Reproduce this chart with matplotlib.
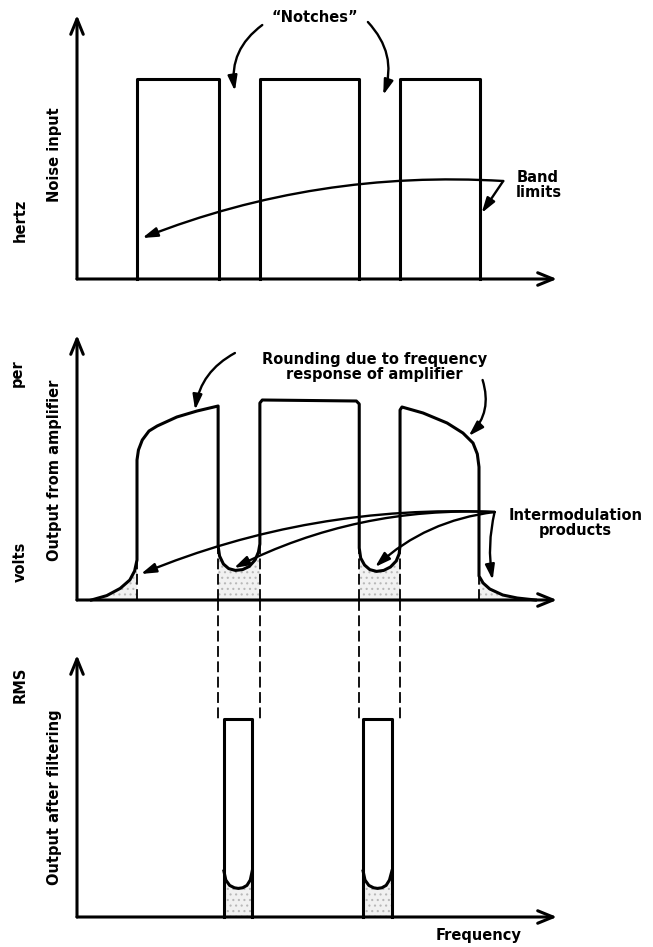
import matplotlib
matplotlib.use("Agg")
import matplotlib.pyplot as plt
import numpy as np

# ---- data (frequency in arbitrary units 0..100, amplitude: 1 = full noise level)
band_edges = [12.5, 29.6, 38.1, 58.8, 67.3, 84.0]   # three bands between the notches
noise_level = 1.0

# output from amplifier: pieces of the curve
tail_left_f = [3.0, 6.2, 9.0, 11.0, 12.0, 12.5]
tail_left_v = [0.0, 0.022, 0.058, 0.10, 0.145, 0.20]
band1_f = [12.5, 12.8, 13.6, 15.0, 16.7, 20.8, 25.0, 29.4, 29.4]
band1_v = [0.70, 0.75, 0.80, 0.845, 0.87, 0.915, 0.945, 0.97, 0.27]
dip1_f = [29.4, 29.7, 30.5, 31.6, 33.0, 34.5, 35.9, 37.1, 37.8, 38.1]
dip1_v = [0.27, 0.22, 0.18, 0.157, 0.148, 0.152, 0.168, 0.20, 0.24, 0.28]
band2_f = [38.1, 38.1, 38.6, 58.2, 58.8, 58.8]
band2_v = [0.28, 0.985, 1.0, 0.995, 0.98, 0.26]
dip2_f = [58.8, 59.1, 59.9, 61.0, 62.4, 63.9, 65.3, 66.5, 67.1, 67.3]
dip2_v = [0.26, 0.21, 0.175, 0.152, 0.143, 0.148, 0.165, 0.195, 0.23, 0.27]
band3_f = [67.3, 67.3, 67.7, 72.1, 77.1, 80.4, 82.5, 83.4, 83.75, 83.75]
band3_v = [0.27, 0.95, 0.965, 0.935, 0.885, 0.835, 0.785, 0.73, 0.665, 0.12]
tail_right_f = [83.75, 84.6, 86.0, 88.7, 91.7, 95.5]
tail_right_v = [0.12, 0.085, 0.055, 0.025, 0.01, 0.0]

# output after filtering
pass_bands = [(30.6, 36.5), (59.6, 65.6)]
pass_level = 0.99
fdip1_f = [30.6, 31.0, 31.8, 32.8, 33.6, 34.5, 35.4, 36.1, 36.5]
fdip2_f = [59.6, 60.0, 60.8, 61.8, 62.6, 63.5, 64.4, 65.1, 65.6]
fdip_v = [0.23, 0.185, 0.158, 0.146, 0.143, 0.146, 0.158, 0.185, 0.23]

W, H = 653, 947
PX = 4.8     # pixels per frequency unit
PY = 200.0   # pixels per amplitude unit
X0 = 77      # pixel of frequency 0

fig = plt.figure(figsize=(W / 100, H / 100), dpi=100)
plt.rcParams["hatch.linewidth"] = 0.8
FONT = dict(family="DejaVu Sans", weight="bold", fontsize=10.5)
LW = 2.2
dash = (0, (6, 2.5))


def panel(top_px, bot_px, base_px):
    ax = fig.add_axes([0, 1 - bot_px / H, 1, (bot_px - top_px) / H])
    ax.set_xlim(-X0 / PX, (W - X0) / PX)
    ax.set_ylim((base_px - bot_px) / PY, (base_px - top_px) / PY)
    ax.axis("off")
    ax.patch.set_alpha(0)
    return ax


def axes_arrows(ax, ytop):
    ap = dict(arrowstyle="->,head_length=1.1,head_width=0.45", lw=LW,
              color="black", shrinkA=0, shrinkB=0)
    ax.annotate("", xy=(100, 0), xytext=(0, 0), arrowprops=ap)
    ax.annotate("", xy=(0, ytop), xytext=(0, 0), arrowprops=ap)


def pointer(ax, start, tip, rad, lw=1.7):
    ax.annotate("", xy=tip, xytext=start,
                arrowprops=dict(arrowstyle="-|>,head_length=0.9,head_width=0.28",
                                lw=lw, color="black", shrinkA=0, shrinkB=0,
                                connectionstyle=f"arc3,rad={rad}"))


def stipple(ax, f, v):
    ax.fill_between(f, 0, v, facecolor="#f1f1f1", edgecolor="#b8b8b8",
                    hatch="...", linewidth=0, zorder=1)


# ---------------- panel 1: noise input
ax1 = panel(0, 300, 279)
axes_arrows(ax1, 1.32)
for l, r in zip(band_edges[0::2], band_edges[1::2]):
    ax1.plot([l, l, r, r], [0, noise_level, noise_level, 0], color="black",
             lw=LW, solid_joinstyle="round", zorder=3)
ax1.text(49.6, 1.31, "\u201cNotches\u201d", ha="center", va="center", **FONT)
pointer(ax1, (38.6, 1.27), (32.9, 0.94), 0.3)
pointer(ax1, (60.6, 1.285), (63.8, 0.92), -0.3)
ax1.text(91.5, 0.47, "Band\nlimits", ha="left", va="center", linespacing=1.0, **FONT)
pointer(ax1, (88.8, 0.49), (13.6, 0.205), 0.11)
pointer(ax1, (88.8, 0.49), (84.3, 0.33), 0.0)
ax1.text(-4.6, 0.62, "Noise input", rotation=90, ha="center", va="center", **FONT)
ax1.text(-11.9, 0.295, "hertz", rotation=90, ha="center", va="center", **FONT)

# ---------------- panel 2: output from amplifier
ax2 = panel(300, 620, 600)
axes_arrows(ax2, 1.325)
out_f = tail_left_f + band1_f + dip1_f + band2_f + dip2_f + band3_f + tail_right_f
out_v = tail_left_v + band1_v + dip1_v + band2_v + dip2_v + band3_v + tail_right_v
ax2.plot(out_f, out_v, color="black", lw=LW, solid_joinstyle="round", zorder=3)
stipple(ax2, dip1_f, dip1_v)
stipple(ax2, dip2_f, dip2_v)
stipple(ax2, tail_left_f, tail_left_v)
stipple(ax2, tail_right_f, tail_right_v)
# band edges continued down as dashed lines
edge_f = [tail_left_f[-1], dip1_f[0], dip1_f[-1], dip2_f[0], dip2_f[-1], band3_f[-1]]
edge_v = [tail_left_v[-1], dip1_v[0], dip1_v[-1], dip2_v[0], dip2_v[-1], band3_v[-1]]
for f, v in zip(edge_f, edge_v):
    ax2.plot([f, f], [0, v], color="black", lw=1.3, ls=dash, zorder=2)

ax2.text(61.9, 1.165, "Rounding due to frequency\nresponse of amplifier",
         ha="center", va="center", linespacing=0.95, **FONT)
pointer(ax2, (32.9, 1.235), (24.6, 0.95), 0.25)
pointer(ax2, (84.5, 1.10), (81.6, 0.82), -0.3)

ax2.text(103.8, 0.385, "Intermodulation\nproducts", ha="center", va="center",
         linespacing=1.05, **FONT)
origin = (87.0, 0.44)
pointer(ax2, origin, (13.3, 0.13), 0.11)
pointer(ax2, origin, (32.7, 0.16), 0.13)
pointer(ax2, origin, (62.1, 0.165), 0.16)
pointer(ax2, origin, (86.6, 0.10), 0.1)

ax2.text(-4.6, 0.65, "Output from amplifier", rotation=90, ha="center", va="center", **FONT)
ax2.text(-12.5, 1.135, "per", rotation=90, ha="center", va="center", **FONT)
ax2.text(-11.9, 0.19, "volts", rotation=90, ha="center", va="center", **FONT)

# ---------------- panel 3: output after filtering
ax3 = panel(600, 947, 917)
axes_arrows(ax3, 1.31)
ytop3 = ax3.get_ylim()[1]
for f in [dip1_f[0], dip1_f[-1], dip2_f[0], dip2_f[-1]]:
    ax3.plot([f, f], [ytop3, pass_level], color="black", lw=1.3, ls=dash, zorder=2)
for (l, r), df in zip(pass_bands, [fdip1_f, fdip2_f]):
    ax3.plot([l, l, r, r], [0, pass_level, pass_level, 0], color="black",
             lw=LW, solid_joinstyle="round", zorder=3)
    ax3.plot(df, fdip_v, color="black", lw=LW, zorder=3)
    stipple(ax3, df, fdip_v)

ax3.text(83.6, -0.09, "Frequency", ha="center", va="center", **FONT)
ax3.text(-4.6, 0.6, "Output after filtering", rotation=90, ha="center", va="center", **FONT)
ax3.text(-11.9, 1.16, "RMS", rotation=90, ha="center", va="center", **FONT)

fig.savefig("out.png", dpi=100, facecolor="white")
